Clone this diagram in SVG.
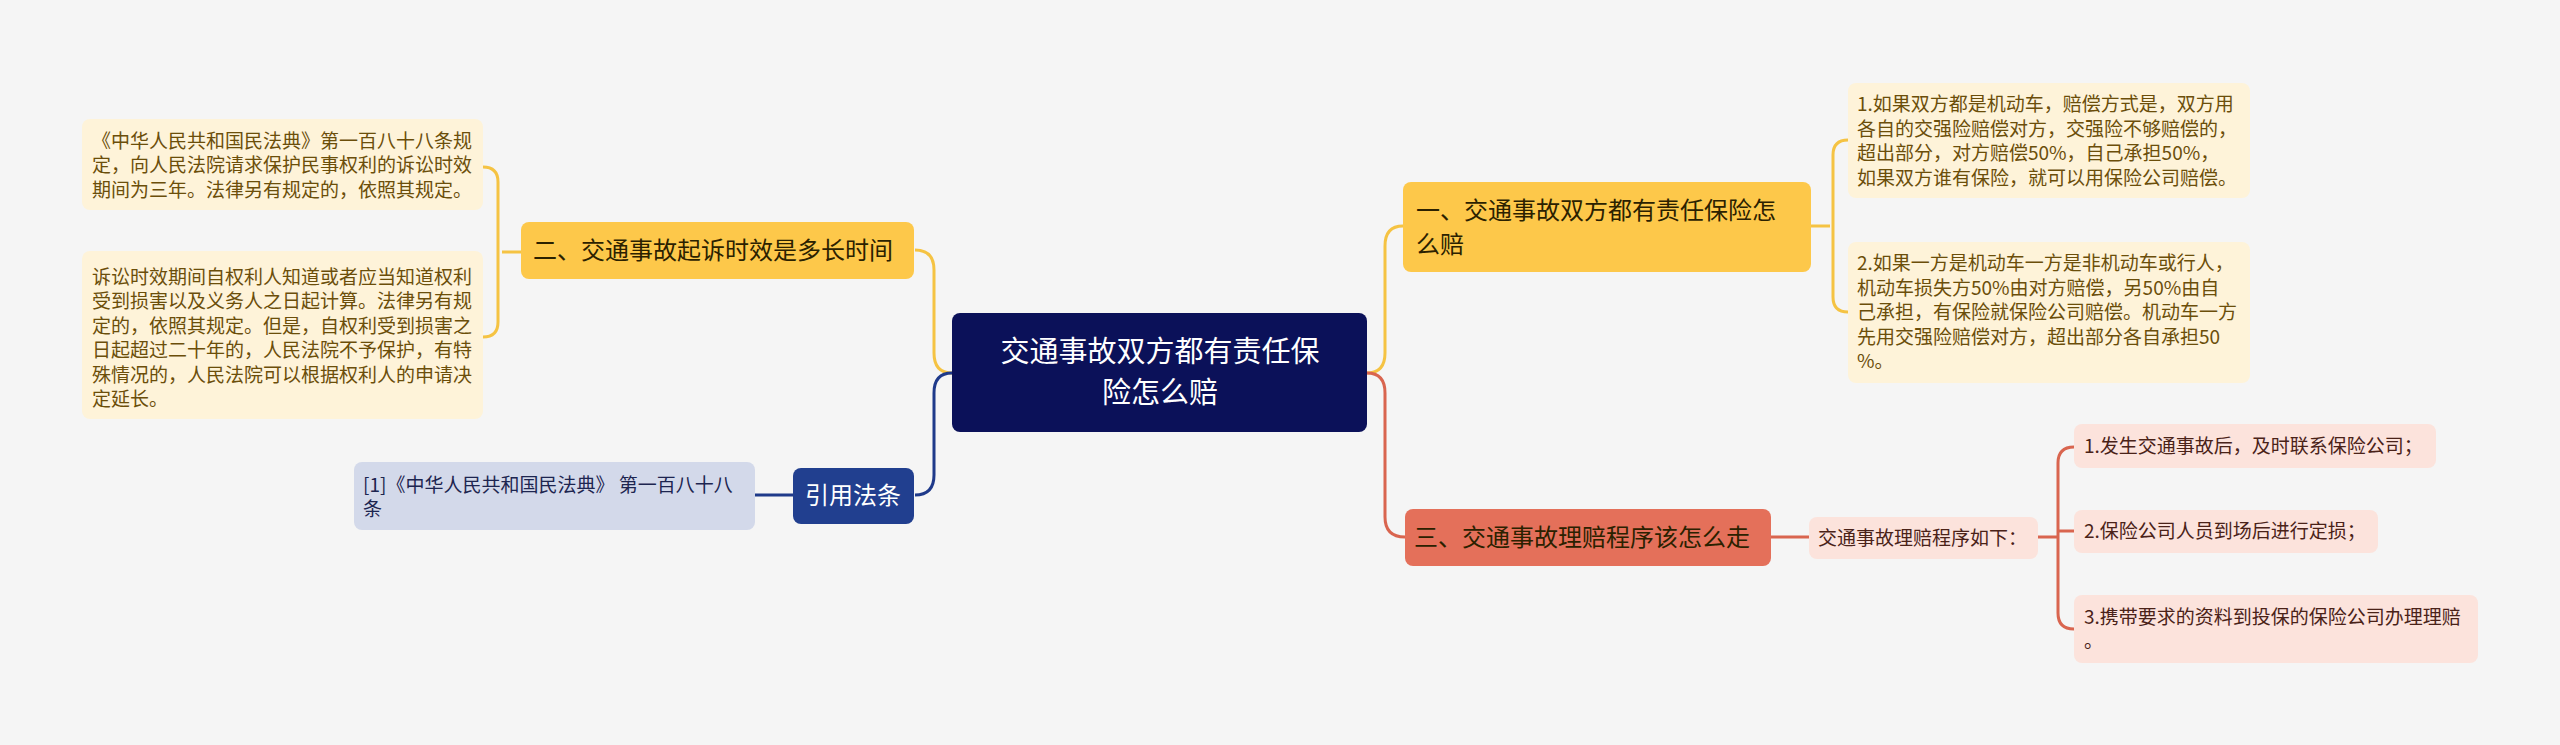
<svg xmlns="http://www.w3.org/2000/svg" width="2560" height="745" viewBox="0 0 2560 745">
<style>
text{font-family:"Noto Sans CJK SC","Noto Sans",sans-serif}
.c{fill:none;stroke-width:3}
.y{stroke:#f5c343}.n{stroke:#1f3a8a}.r{stroke:#d9654f}
.lf{font-size:19px;fill:#6b4e0a}
.pk{font-size:19px;fill:#4a2218}
.br{font-size:24px;fill:#2b2100}
</style>
<rect width="2560" height="745" fill="#f5f5f5"/>
<g id="connectors">
<path class="c y" d="M915,250 Q934,250 934,270 L934,353 Q934,373 952,373"/>
<path class="c n" d="M915,495 Q934,495 934,475 L934,393 Q934,373 952,373"/>
<path class="c y" d="M521,252 L502,252 M483,167 Q498,167 498,182 L498,322 Q498,337 483,337"/>
<path class="c n" d="M755,495 L793,495"/>
<path class="c y" d="M1367,373 Q1385,373 1385,353 L1385,246 Q1385,226 1403,226"/>
<path class="c r" d="M1367,373 Q1385,373 1385,393 L1385,517 Q1385,537 1405,537"/>
<path class="c y" d="M1811,226 L1830,226 M1848,140 Q1833,140 1833,155 L1833,297 Q1833,312 1848,312"/>
<path class="c r" d="M1771,537 L1809,537"/>
<path class="c r" d="M2038,537 L2058,537 M2074,447 Q2058,447 2058,463 L2058,613 Q2058,629 2074,629 M2058,531 L2074,531"/>
</g>
<g id="center"><rect x="952" y="313" width="415" height="119" rx="8" fill="#0b1159"/>
<text x="1160" y="362" font-size="29" fill="#fff" text-anchor="middle">交通事故双方都有责任保</text>
<text x="1160" y="403" font-size="29" fill="#fff" text-anchor="middle">险怎么赔</text></g>
<g id="L1"><rect x="521" y="222" width="393" height="57" rx="8" fill="#fdc84a"/>
<text class="br" x="533" y="259">二、交通事故起诉时效是多长时间</text></g>
<g id="L1a"><rect x="82" y="119" width="401" height="91" rx="8" fill="#fef3d9"/>
<text class="lf" x="92" y="148">《中华人民共和国民法典》第一百八十八条规</text>
<text class="lf" x="92" y="172">定，向人民法院请求保护民事权利的诉讼时效</text>
<text class="lf" x="92" y="197">期间为三年。法律另有规定的，依照其规定。</text></g>
<g id="L1b"><rect x="82" y="251" width="401" height="168" rx="8" fill="#fef3d9"/>
<text class="lf" x="92" y="284">诉讼时效期间自权利人知道或者应当知道权利</text>
<text class="lf" x="92" y="308">受到损害以及义务人之日起计算。法律另有规</text>
<text class="lf" x="92" y="333">定的，依照其规定。但是，自权利受到损害之</text>
<text class="lf" x="92" y="357">日起超过二十年的，人民法院不予保护，有特</text>
<text class="lf" x="92" y="382">殊情况的，人民法院可以根据权利人的申请决</text>
<text class="lf" x="92" y="406">定延长。</text></g>
<g id="L2"><rect x="793" y="468" width="121" height="56" rx="8" fill="#213f8f"/>
<text x="853" y="504" font-size="24" fill="#fff" text-anchor="middle">引用法条</text></g>
<g id="L2a"><rect x="354" y="462" width="401" height="68" rx="8" fill="#d3d9ea"/>
<text x="363" y="492" font-size="19" fill="#1d2550">[1]《中华人民共和国民法典》 第一百八十八</text>
<text x="363" y="516" font-size="19" fill="#1d2550">条</text></g>
<g id="R1"><rect x="1403" y="182" width="408" height="90" rx="8" fill="#fdc84a"/>
<text class="br" x="1416" y="219">一、交通事故双方都有责任保险怎</text>
<text class="br" x="1416" y="253">么赔</text></g>
<g id="R1a"><rect x="1848" y="83" width="402" height="115" rx="8" fill="#fef3d9"/>
<text class="lf" x="1857" y="111">1.如果双方都是机动车，赔偿方式是，双方用</text>
<text class="lf" x="1857" y="136">各自的交强险赔偿对方，交强险不够赔偿的，</text>
<text class="lf" x="1857" y="160">超出部分，对方赔偿50%，自己承担50%，</text>
<text class="lf" x="1857" y="185">如果双方谁有保险，就可以用保险公司赔偿。</text></g>
<g id="R1b"><rect x="1848" y="242" width="402" height="141" rx="8" fill="#fef3d9"/>
<text class="lf" x="1857" y="270">2.如果一方是机动车一方是非机动车或行人，</text>
<text class="lf" x="1857" y="295">机动车损失方50%由对方赔偿，另50%由自</text>
<text class="lf" x="1857" y="319">己承担，有保险就保险公司赔偿。机动车一方</text>
<text class="lf" x="1857" y="344">先用交强险赔偿对方，超出部分各自承担50</text>
<text class="lf" x="1857" y="368">%。</text></g>
<g id="R3"><rect x="1405" y="509" width="366" height="57" rx="8" fill="#e4705a"/>
<text class="br" x="1414" y="546" fill="#2a0f08">三、交通事故理赔程序该怎么走</text></g>
<g id="R3s"><rect x="1809" y="517" width="229" height="42" rx="8" fill="#fce3dc"/>
<text class="pk" x="1818" y="545">交通事故理赔程序如下：</text></g>
<g id="R3a"><rect x="2074" y="424" width="362" height="44" rx="8" fill="#fce3dc"/>
<text class="pk" x="2084" y="453">1.发生交通事故后，及时联系保险公司；</text></g>
<g id="R3b"><rect x="2074" y="510" width="304" height="43" rx="8" fill="#fce3dc"/>
<text class="pk" x="2084" y="538">2.保险公司人员到场后进行定损；</text></g>
<g id="R3c"><rect x="2074" y="595" width="404" height="68" rx="8" fill="#fce3dc"/>
<text class="pk" x="2084" y="624">3.携带要求的资料到投保的保险公司办理理赔</text>
<text class="pk" x="2084" y="648">。</text></g>
</svg>
